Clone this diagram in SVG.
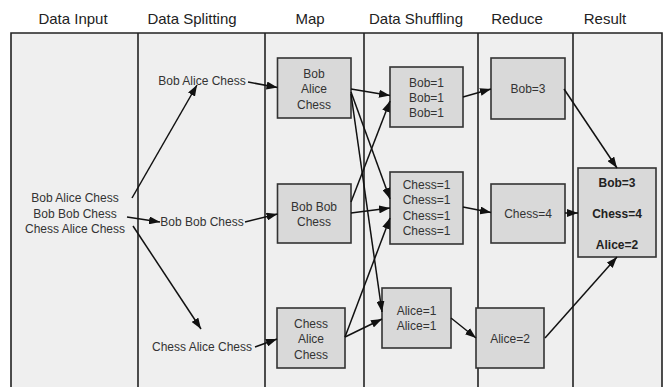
<svg xmlns="http://www.w3.org/2000/svg" width="665" height="387" viewBox="0 0 665 387">
  <defs>
    <marker id="arrow" markerUnits="userSpaceOnUse" markerWidth="11" markerHeight="8" refX="11" refY="4" orient="auto">
      <path d="M0,0 L11,4 L0,8 z" fill="#111"/>
    </marker>
  </defs>
  <style>
    text { font-family: "Liberation Sans", Arial, sans-serif; fill: #333; text-anchor: middle; }
    .head { font-size: 15px; fill: #222; }
    .lbl { font-size: 12px; }
    .bold { font-size: 12px; font-weight: bold; fill: #222; }
    .box { fill: #d9d9d9; stroke: #333; stroke-width: 1.6; }
    .col { stroke: #222; stroke-width: 1.6; fill: none; }
    #connectors line { stroke: #111; stroke-width: 1.5; marker-end: url(#arrow); }
  </style>

  <!-- page and lanes -->
  <rect x="0" y="0" width="665" height="387" fill="#ffffff"/>
  <rect x="11" y="33" width="651" height="354" fill="#efefef"/>
  <g id="lanes">
    <path class="col" d="M11,387 V33 H662 V387"/>
    <line class="col" x1="138" y1="33" x2="138" y2="387"/>
    <line class="col" x1="265" y1="33" x2="265" y2="387"/>
    <line class="col" x1="364" y1="33" x2="364" y2="387"/>
    <line class="col" x1="478" y1="33" x2="478" y2="387"/>
    <line class="col" x1="573" y1="33" x2="573" y2="387"/>
  </g>

  <!-- column headings -->
  <g id="headings">
    <text class="head" x="73" y="24">Data Input</text>
    <text class="head" x="192" y="24">Data Splitting</text>
    <text class="head" x="310" y="24">Map</text>
    <text class="head" x="416" y="24">Data Shuffling</text>
    <text class="head" x="517" y="24">Reduce</text>
    <text class="head" x="605" y="24">Result</text>
  </g>

  <!-- input -->
  <g id="input">
    <text class="lbl" x="75" y="202">Bob Alice Chess</text>
    <text class="lbl" x="75" y="217.5">Bob Bob Chess</text>
    <text class="lbl" x="75" y="233">Chess Alice Chess</text>
  </g>

  <!-- splits -->
  <g id="split1"><text class="lbl" x="202" y="85">Bob Alice Chess</text></g>
  <g id="split2"><text class="lbl" x="202" y="226">Bob Bob Chess</text></g>
  <g id="split3"><text class="lbl" x="202" y="351">Chess Alice Chess</text></g>

  <!-- map -->
  <g id="map1">
    <rect class="box" x="277.5" y="58" width="73.5" height="60"/>
    <text class="lbl" x="314" y="77.5">Bob</text>
    <text class="lbl" x="314" y="93">Alice</text>
    <text class="lbl" x="314" y="108.5">Chess</text>
  </g>
  <g id="map2">
    <rect class="box" x="277.5" y="184" width="73.5" height="59"/>
    <text class="lbl" x="314" y="210.5">Bob Bob</text>
    <text class="lbl" x="314" y="225.5">Chess</text>
  </g>
  <g id="map3">
    <rect class="box" x="277" y="308" width="68" height="60"/>
    <text class="lbl" x="311" y="327.5">Chess</text>
    <text class="lbl" x="311" y="343">Alice</text>
    <text class="lbl" x="311" y="358.5">Chess</text>
  </g>

  <!-- shuffle -->
  <g id="shuffle-bob">
    <rect class="box" x="390" y="67" width="73" height="60"/>
    <text class="lbl" x="426.5" y="86.5">Bob=1</text>
    <text class="lbl" x="426.5" y="101.5">Bob=1</text>
    <text class="lbl" x="426.5" y="116.5">Bob=1</text>
  </g>
  <g id="shuffle-chess">
    <rect class="box" x="390" y="172" width="73" height="72"/>
    <text class="lbl" x="426.5" y="188.5">Chess=1</text>
    <text class="lbl" x="426.5" y="204">Chess=1</text>
    <text class="lbl" x="426.5" y="219.5">Chess=1</text>
    <text class="lbl" x="426.5" y="235">Chess=1</text>
  </g>
  <g id="shuffle-alice">
    <rect class="box" x="382" y="288" width="69" height="60"/>
    <text class="lbl" x="416.5" y="314.5">Alice=1</text>
    <text class="lbl" x="416.5" y="330">Alice=1</text>
  </g>

  <!-- reduce -->
  <g id="reduce-bob">
    <rect class="box" x="491" y="58" width="74" height="61"/>
    <text class="lbl" x="528" y="92.5">Bob=3</text>
  </g>
  <g id="reduce-chess">
    <rect class="box" x="491" y="184" width="74" height="59"/>
    <text class="lbl" x="528" y="217.5">Chess=4</text>
  </g>
  <g id="reduce-alice">
    <rect class="box" x="476" y="308" width="68" height="60"/>
    <text class="lbl" x="510" y="343">Alice=2</text>
  </g>

  <!-- result -->
  <g id="result">
    <rect class="box" x="578" y="168" width="78" height="89"/>
    <text class="bold" x="617" y="186.5">Bob=3</text>
    <text class="bold" x="617" y="217.5">Chess=4</text>
    <text class="bold" x="617" y="248.5">Alice=2</text>
  </g>

  <!-- connectors -->
  <g id="connectors">
    <line x1="132" y1="198" x2="197" y2="85"/>
    <line x1="127" y1="217" x2="160" y2="222"/>
    <line x1="133" y1="226" x2="201" y2="329"/>

    <line x1="248" y1="82" x2="277.5" y2="87.5"/>
    <line x1="245" y1="222" x2="277.5" y2="214"/>
    <line x1="255" y1="347" x2="277" y2="339"/>

    <line x1="351" y1="89" x2="390" y2="95.5"/>
    <line x1="351" y1="92" x2="390" y2="199"/>
    <line x1="351" y1="94" x2="382" y2="312"/>
    <line x1="351" y1="202" x2="390" y2="101"/>
    <line x1="351" y1="213" x2="390" y2="208"/>
    <line x1="345" y1="337" x2="390" y2="218"/>
    <line x1="345" y1="337" x2="382" y2="319"/>

    <line x1="463" y1="97" x2="491" y2="89"/>
    <line x1="463" y1="207" x2="491" y2="212.5"/>
    <line x1="451" y1="318" x2="476" y2="338"/>

    <line x1="564" y1="89" x2="617" y2="168"/>
    <line x1="565" y1="213" x2="578" y2="213"/>
    <line x1="545" y1="338" x2="617" y2="257"/>
  </g>
</svg>
